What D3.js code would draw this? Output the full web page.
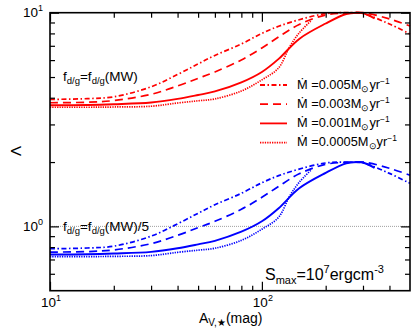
<!DOCTYPE html>
<html>
<head>
<meta charset="utf-8">
<script src="https://cdn.jsdelivr.net/npm/d3@7"></script>
<style>
  body { margin: 0; background: #fff; }
  svg text { font-family: "Liberation Sans", Arial, sans-serif; fill: #000; }
</style>
</head>
<body>
<svg id="chart" width="416" height="334"></svg>
<script>
'use strict'

/****** DATA ******/

// A_V,* (mag) sample points
const avGrid = [10, 15, 20, 30, 40, 50, 60, 80, 100, 120, 150, 200, 250, 300, 400, 500]
const avSolid = [10, 15, 20, 30, 40, 50, 60, 80, 100, 120, 150, 200, 250, 280, 300, 340]
const avDotted = [10, 15, 20, 30, 40, 50, 60, 80, 100, 120, 135, 150, 170]

// f_d/g = f_d/g(MW)  (red)
const red005 = [3.93, 3.96, 4.04, 4.5, 5.14, 5.76, 6.31, 7.14, 8.0, 8.64, 9.27, 9.9, 10.0, 9.9, 8.85, 7.95]
const red003 = [3.79, 3.81, 3.88, 4.15, 4.54, 4.93, 5.28, 6.01, 6.84, 7.7, 8.81, 9.76, 9.97, 10.0, 9.35, 8.67]
const red001 = [3.69, 3.70, 3.73, 3.80, 3.95, 4.12, 4.28, 4.72, 5.28, 6.08, 7.54, 8.9, 9.86, 10.0, 9.95, 9.4]
const red0005 = [3.61, 3.61, 3.62, 3.65, 3.78, 3.87, 3.95, 4.3, 4.85, 5.52, 6.91, 8.04, 9.14]

// f_d/g = f_d/g(MW)/5  (blue)
const blue005 = [0.786, 0.792, 0.808, 0.90, 1.028, 1.152, 1.262, 1.428, 1.60, 1.728, 1.854, 1.98, 2.0, 1.98, 1.77, 1.59]
const blue003 = [0.758, 0.762, 0.776, 0.83, 0.908, 0.986, 1.056, 1.202, 1.368, 1.54, 1.762, 1.952, 1.994, 2.0, 1.87, 1.734]
const blue001 = [0.738, 0.74, 0.746, 0.76, 0.79, 0.824, 0.856, 0.944, 1.056, 1.216, 1.508, 1.78, 1.972, 2.0, 1.99, 1.88]
const blue0005 = [0.722, 0.722, 0.724, 0.73, 0.756, 0.774, 0.79, 0.86, 0.97, 1.104, 1.382, 1.608, 1.828]

const legendLabels = ['0.005', '0.003', '0.001', '0.0005']

const xMajor = [10, 100]
const xMinor = [20, 30, 40, 50, 60, 70, 80, 90, 200, 300, 400]
const yMajor = [1, 10]
const yMinor = [0.6, 0.7, 0.8, 0.9, 2, 3, 4, 5, 6, 7, 8, 9]

/****** STYLES ******/

const dashes = {
  '0.005': '5,2.5,1.5,2.5',
  '0.003': '8,5',
  '0.001': null,
  '0.0005': '1.3,1.1'
}
const RED = '#ff0000', BLUE = '#0000ff'

/****** CHART ******/

const margin = {top: 12.7, right: 6, bottom: 43.3, left: 50}
const W = 416, H = 334
const width = W - margin.left - margin.right,
      height = H - margin.top - margin.bottom

const x = d3.scaleLog().domain([10, 500]).range([0, width])
const y = d3.scaleLog().domain([0.5, 10]).range([height, 0])

const svg = d3.select('#chart')
const chart = svg.append('g')
  .attr('transform', `translate(${margin.left},${margin.top})`)

// reference line at Lambda = 1
chart.append('line')
  .attr('x1', 0).attr('x2', width)
  .attr('y1', y(1)).attr('y2', y(1))
  .attr('stroke', '#888').attr('stroke-width', 0.8)
  .attr('stroke-dasharray', '1,1')

const line = d3.line()
  .x(d => x(d[0]))
  .y(d => y(d[1]))
  .curve(d3.curveCatmullRom.alpha(0.5))

const series = [
  {key: '0.005', xs: avGrid, red: red005, blue: blue005},
  {key: '0.003', xs: avGrid, red: red003, blue: blue003},
  {key: '0.001', xs: avSolid, red: red001, blue: blue001},
  {key: '0.0005', xs: avDotted, red: red0005, blue: blue0005}
]

const curves = chart.append('g')
for (let s of series) {
  for (let [vals, col] of [[s.red, RED], [s.blue, BLUE]]) {
    curves.append('path')
      .datum(s.xs.map((a, i) => [a, vals[i]]))
      .attr('fill', 'none')
      .attr('stroke', col)
      .attr('stroke-width', s.key === '0.001' ? 1.9 : 1.7)
      .attr('stroke-dasharray', dashes[s.key])
      .attr('d', line)
  }
}

// axes: ticks point inward
function addAxis(gen, vals, size, tr) {
  chart.append('g')
    .attr('transform', tr)
    .call(gen.tickValues(vals).tickSize(size).tickFormat(''))
    .call(g => g.select('.domain').remove())
    .selectAll('line').attr('stroke', '#000').attr('stroke-width', 1.2)
}
addAxis(d3.axisBottom(x), xMinor, -5, `translate(0,${height})`)
addAxis(d3.axisBottom(x), xMajor, -9, `translate(0,${height})`)
addAxis(d3.axisTop(x), xMinor, -5, 'translate(0,0)')
addAxis(d3.axisTop(x), xMajor, -9, 'translate(0,0)')
addAxis(d3.axisLeft(y), yMinor, -5, 'translate(0,0)')
addAxis(d3.axisLeft(y), yMajor, -9, 'translate(0,0)')
addAxis(d3.axisRight(y), yMinor, -5, `translate(${width},0)`)
addAxis(d3.axisRight(y), yMajor, -9, `translate(${width},0)`)

chart.append('rect')
  .attr('width', width).attr('height', height)
  .attr('fill', 'none').attr('stroke', '#000').attr('stroke-width', 1.6)

// power-of-ten tick labels
function powLabel(g, px, py, exp, anchor) {
  const t = g.append('text')
    .attr('x', px).attr('y', py)
    .attr('text-anchor', anchor)
    .style('font-size', '13.5px')
  t.append('tspan').text('10')
  t.append('tspan').attr('dy', -6).style('font-size', '9px').text(exp)
}
for (let v of xMajor) powLabel(chart, x(v) + 1, height + 16, Math.log10(v), 'middle')
for (let v of yMajor) powLabel(chart, -7, y(v) + 4.5, Math.log10(v), 'end')

// axis titles
const xt = chart.append('text')
  .attr('x', 149).attr('y', height + 32)
  .style('font-size', '14px')
xt.append('tspan').text('A')
xt.append('tspan').attr('dy', 3).style('font-size', '10px').text('V,★')
xt.append('tspan').attr('dy', -3).text('(mag)')

svg.append('text')
  .attr('transform', 'translate(15,151) rotate(-90)')
  .attr('text-anchor', 'middle')
  .attr('dominant-baseline', 'central')
  .style('font-size', '15px')
  .text('Λ')

// annotations
function fdgLabel(py, suffix) {
  const t = chart.append('text')
    .attr('x', 13).attr('y', py)
    .style('font-size', '13.5px')
  t.append('tspan').text('f')
  t.append('tspan').attr('dy', 3).style('font-size', '9.5px').text('d/g')
  t.append('tspan').attr('dy', -3).text('=f')
  t.append('tspan').attr('dy', 3).style('font-size', '9.5px').text('d/g')
  t.append('tspan').attr('dy', -3).text('(MW)' + suffix)
}
fdgLabel(81.5 - margin.top, '')
fdgLabel(231 - margin.top, '/5')

const st = chart.append('text')
  .attr('x', 215).attr('y', 280 - margin.top)
  .style('font-size', '16px')
st.append('tspan').text('S')
st.append('tspan').attr('dy', 4).style('font-size', '11px').text('max')
st.append('tspan').attr('dy', -4).text('=10')
st.append('tspan').attr('dy', -7).style('font-size', '11px').text('7')
st.append('tspan').attr('dy', 7).text('ergcm')
st.append('tspan').attr('dy', -7).style('font-size', '11px').text('-3')

// legend
const legend = chart.append('g')
legendLabels.forEach((lab, i) => {
  const ly = 85 - margin.top + i * 19.2
  legend.append('line')
    .attr('x1', 210).attr('x2', 237)
    .attr('y1', ly).attr('y2', ly)
    .attr('stroke', RED).attr('stroke-width', 1.8)
    .attr('stroke-dasharray', dashes[lab])
  const t = legend.append('text')
    .attr('x', 247).attr('y', ly + 3.8)
    .style('font-size', '12.8px')
  t.append('tspan').text('Ṁ =' + lab + 'M')
  t.append('tspan').attr('dy', 3).style('font-size', '8.5px').text('⊙')
  t.append('tspan').attr('dy', -3).text('yr')
  t.append('tspan').attr('dy', -5).style('font-size', '8.5px').text('−1')
})
</script>
</body>
</html>
